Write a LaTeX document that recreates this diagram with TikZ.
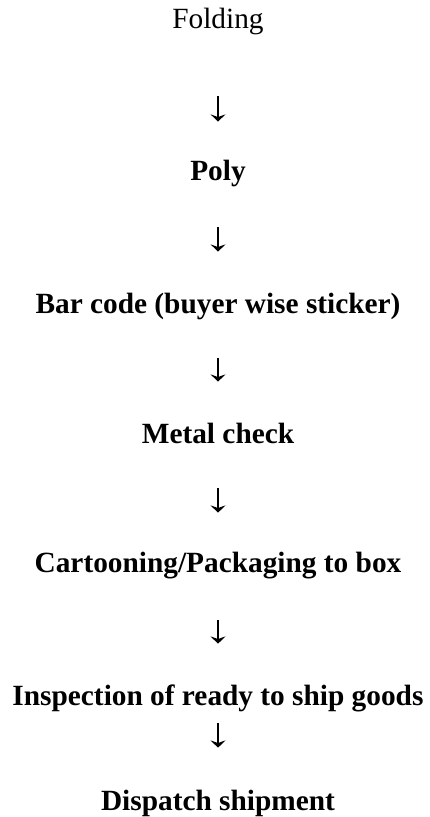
\documentclass[tikz,border=0pt]{standalone}
\usepackage{fontspec}
\setmainfont{Liberation Serif}
\usepackage{tikz}
\usetikzlibrary{arrows.meta, positioning}

\begin{document}
\begin{tikzpicture}[
    x=0.75pt, y=-0.75pt,
    stage/.style={anchor=base, inner sep=0pt, text height=15pt, text depth=4.5pt,
                  font=\fontsize{22}{26}\selectfont\bfseries},
    flow/.style={-{Stealth[length=5.5pt, width=11pt, inset=2pt]}, line width=1.1pt,
                 shorten <=30pt, shorten >=30pt},
  ]
    \useasboundingbox (0,0) rectangle (429,817);

    % Stages
    \node[stage, font=\fontsize{22}{26}\selectfont] (fold) at (218,29) {Folding};
    \node[stage] (poly) at (218,180) {Poly};
    \node[stage] (barcode) at (218,313) {Bar code (buyer wise sticker)};
    \node[stage] (metal) at (218,443) {Metal check};
    \node[stage] (carton) at (218,572) {Cartooning/Packaging to box};
    \node[stage] (inspect) at (218,705) {Inspection of ready to ship goods};
    \node[stage] (dispatch) at (218,810) {Dispatch shipment};

    % Arrows
    \draw[flow, shorten <=45.75pt, shorten >=28.5pt] (fold) -- (poly);
    \draw[flow, shorten <=30.75pt, shorten >=30.75pt] (poly) -- (barcode);
    \draw[flow, shorten <=29.25pt, shorten >=30.75pt] (barcode) -- (metal);
    \draw[flow, shorten <=29.25pt, shorten >=29.25pt] (metal) -- (carton);
    \draw[flow, shorten <=31.5pt, shorten >=30.75pt] (carton) -- (inspect);
    \draw[flow, shorten <=9pt, shorten >=31.5pt] (inspect) -- (dispatch);
  \end{tikzpicture}
\end{document}
